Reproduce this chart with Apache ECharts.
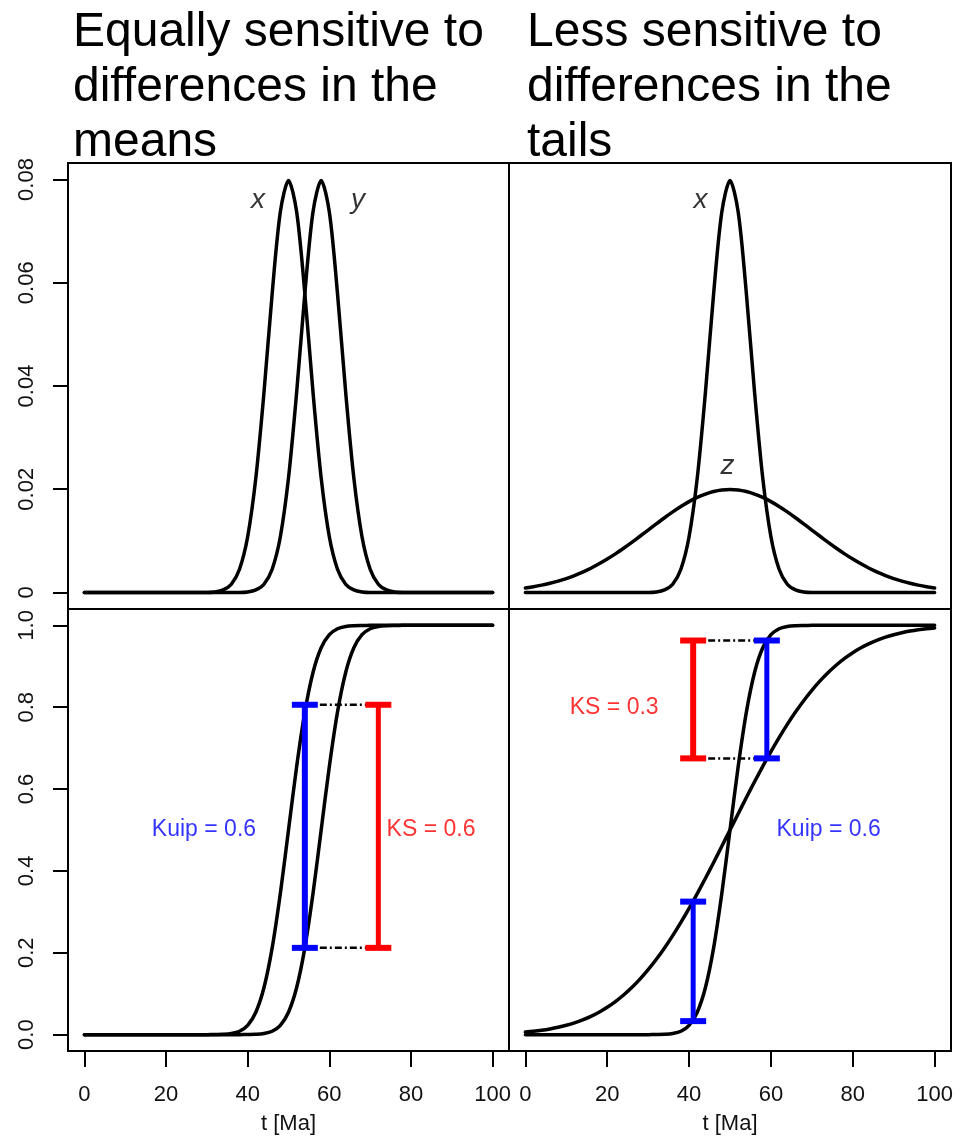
<!DOCTYPE html>
<html>
<head>
<meta charset="utf-8">
<script src="https://cdn.jsdelivr.net/npm/echarts@6/dist/echarts.min.js"></script>
<style>
  html, body { margin: 0; padding: 0; background: #fff; }
  #chart { width: 966px; height: 1136px; }
</style>
</head>
<body>
<div id="chart"></div>
<script>
// sample times (Ma)
const t = [0, 2, 4, 6, 8, 10, 12, 14, 16, 18, 20, 22, 24, 26, 28, 30, 32, 34, 36, 38, 40,
  42, 44, 46, 48, 50, 52, 54, 56, 58, 60, 62, 64, 66, 68, 70, 72, 74, 76, 78, 80,
  82, 84, 86, 88, 90, 92, 94, 96, 98, 100];

// densities (top row)
const xPdf = [0, 0, 0, 0, 0, 0, 0, 0, 0, 0, 0, 0, 0, 0, 0, 0, 0.0001, 0.0005, 0.0016, 0.0045, 0.0108,
  0.0222, 0.0388, 0.0579, 0.0737, 0.0798, 0.0737, 0.0579, 0.0388, 0.0222, 0.0108, 0.0045, 0.0016, 0.0005, 0.0001, 0, 0, 0, 0, 0, 0,
  0, 0, 0, 0, 0, 0, 0, 0, 0, 0];
const yPdf = [0, 0, 0, 0, 0, 0, 0, 0, 0, 0, 0, 0, 0, 0, 0, 0, 0, 0, 0, 0, 0.0001,
  0.0005, 0.0016, 0.0045, 0.0108, 0.0222, 0.0388, 0.0579, 0.0737, 0.0798, 0.0737, 0.0579, 0.0388, 0.0222, 0.0108, 0.0045, 0.0016, 0.0005, 0.0001, 0, 0,
  0, 0, 0, 0, 0, 0, 0, 0, 0, 0];
const zPdf = [0.00088, 0.00112, 0.00142, 0.00178, 0.0022, 0.0027, 0.00328, 0.00395, 0.0047, 0.00555, 0.00648,
  0.00748, 0.00857, 0.00971, 0.01089, 0.0121, 0.0133, 0.01448, 0.01561, 0.01666, 0.0176,
  0.01842, 0.01907, 0.01955, 0.01985, 0.01995, 0.01985, 0.01955, 0.01907, 0.01842, 0.0176,
  0.01666, 0.01561, 0.01448, 0.0133, 0.0121, 0.01089, 0.00971, 0.00857, 0.00748, 0.00648,
  0.00555, 0.0047, 0.00395, 0.00328, 0.0027, 0.0022, 0.00178, 0.00142, 0.00112, 0.00088];

// cumulative distributions (bottom row)
const xCdf = [0, 0, 0, 0, 0, 0, 0, 0, 0, 0, 0, 0, 0, 0, 0, 0, 0.0002, 0.0007, 0.0026, 0.0082, 0.0228,
  0.0548, 0.1151, 0.2119, 0.3446, 0.5, 0.6554, 0.7881, 0.8849, 0.9452, 0.9772, 0.9918, 0.9974, 0.9993, 0.9998, 1, 1, 1, 1, 1, 1,
  1, 1, 1, 1, 1, 1, 1, 1, 1, 1];
const yCdf = [0, 0, 0, 0, 0, 0, 0, 0, 0, 0, 0, 0, 0, 0, 0, 0, 0, 0, 0, 0, 0.0002,
  0.0007, 0.0026, 0.0082, 0.0228, 0.0548, 0.1151, 0.2119, 0.3446, 0.5, 0.6554, 0.7881, 0.8849, 0.9452, 0.9772, 0.9918, 0.9974, 0.9993, 0.9998, 1, 1,
  1, 1, 1, 1, 1, 1, 1, 1, 1, 1];
const zCdf = [0.0062, 0.0082, 0.0107, 0.0139, 0.0179, 0.0228, 0.0287, 0.0359, 0.0446, 0.0548, 0.0668,
  0.0808, 0.0968, 0.1151, 0.1357, 0.1587, 0.1841, 0.2119, 0.242, 0.2743, 0.3085,
  0.3446, 0.3821, 0.4207, 0.4602, 0.5, 0.5398, 0.5793, 0.6179, 0.6554, 0.6915,
  0.7257, 0.758, 0.7881, 0.8159, 0.8413, 0.8643, 0.8849, 0.9032, 0.9192, 0.9332,
  0.9452, 0.9554, 0.9641, 0.9713, 0.9772, 0.9821, 0.9861, 0.9893, 0.9918, 0.9938];

// tick values and labels
const xTicks = [0, 20, 40, 60, 80, 100];
const pdfTicks = [0, 0.02, 0.04, 0.06, 0.08];
const pdfTickLabels = ["0", "0.02", "0.04", "0.06", "0.08"];
const cdfTicks = [0, 0.2, 0.4, 0.6, 0.8, 1.0];
const cdfTickLabels = ["0.0", "0.2", "0.4", "0.6", "0.8", "1.0"];

// error bars: [t, low, high]
const kuipLeft = [[54, 0.212, 0.806]];
const ksLeft = [[72, 0.212, 0.806]];
const ksRight = [[41, 0.675, 0.963]];
const kuipRight = [[59, 0.675, 0.963], [41, 0.033, 0.325]];

// dotted connectors between bar ends
const connLeft = [[[54, 0.806], [72, 0.806]], [[54, 0.212], [72, 0.212]]];
const connRight = [[[41, 0.963], [59, 0.963]], [[41, 0.675], [59, 0.675]]];

// annotations
const curveNamesLeft = [{ name: "x", value: [42.5, 0.076] }, { name: "y", value: [67, 0.076] }];
const curveNamesRight = [{ name: "x", value: [42.8, 0.076] }, { name: "z", value: [49.4, 0.0245] }];
const statLeft = [
  { name: "Kuip = 0.6", value: [29.3, 0.5], color: "#0000ff" },
  { name: "KS = 0.6", value: [84.9, 0.5], color: "#ff0000" },
];
const statRight = [
  { name: "KS = 0.3", value: [21.7, 0.8], color: "#ff0000" },
  { name: "Kuip = 0.6", value: [74.1, 0.5], color: "#0000ff" },
];

const FONT = "Liberation Sans, Arial, sans-serif";
const pairs = (vals) => t.map((v, i) => [v, vals[i]]);

const chart = echarts.init(document.getElementById("chart"), null, { renderer: "canvas" });

const gridBox = (left, top, width, height) => ({
  left, top, width, height,
  show: true, borderColor: "#000", borderWidth: 2, backgroundColor: "transparent",
});

const makeX = (gridIndex, bottom) => ({
  type: "value", gridIndex, min: -4, max: 104, position: "bottom",
  axisLine: { show: false, onZero: false },
  splitLine: { show: false },
  axisTick: { show: bottom, inside: false, customValues: xTicks, length: 16, lineStyle: { color: "#000", width: 2 } },
  axisLabel: { show: bottom, customValues: xTicks, fontSize: 22, fontFamily: FONT, color: "#111", margin: 33 },
  name: bottom ? "t [Ma]" : "",
  nameLocation: "middle",
  nameGap: 62,
  nameTextStyle: { fontSize: 22, fontFamily: FONT, color: "#111" },
});

const makeY = (gridIndex, left, min, max, ticks, labels) => ({
  type: "value", gridIndex, min, max, position: "left",
  axisLine: { show: false, onZero: false },
  splitLine: { show: false },
  axisTick: { show: left, inside: false, customValues: ticks, length: 15, lineStyle: { color: "#000", width: 2 } },
  axisLabel: {
    show: left, customValues: ticks, rotate: 90, fontSize: 22, fontFamily: FONT, color: "#111", margin: 30,
    formatter: (v) => labels[ticks.findIndex((k) => Math.abs(k - v) < 1e-9)],
  },
});

const curve = (name, vals, idx) => ({
  name, type: "line", xAxisIndex: idx, yAxisIndex: idx,
  data: pairs(vals), showSymbol: false, smooth: 0.3, silent: true,
  lineStyle: { color: "#000", width: 3.5, cap: "round", join: "round" },
});

const errorBars = (data, color, idx, barW) => ({
  type: "custom", xAxisIndex: idx, yAxisIndex: idx, silent: true, z: 5,
  data,
  renderItem: (params, api) => {
    const x = api.value(0);
    const lo = api.coord([x, api.value(1)]);
    const hi = api.coord([x, api.value(2)]);
    const cap = 13;
    const st = { stroke: color, lineWidth: barW };
    const cs = { stroke: color, lineWidth: 6 };
    return {
      type: "group",
      children: [
        { type: "line", shape: { x1: lo[0], y1: lo[1], x2: hi[0], y2: hi[1] }, style: st },
        { type: "line", shape: { x1: lo[0] - cap, y1: lo[1], x2: lo[0] + cap, y2: lo[1] }, style: cs },
        { type: "line", shape: { x1: hi[0] - cap, y1: hi[1], x2: hi[0] + cap, y2: hi[1] }, style: cs },
      ],
    };
  },
});

const connector = (seg, idx) => ({
  type: "line", xAxisIndex: idx, yAxisIndex: idx, data: seg, showSymbol: false, silent: true, z: 3,
  lineStyle: { color: "#000", width: 2.5, type: [7, 3, 2, 3] },
});

const textSeries = (data, idx, style) => ({
  type: "scatter", xAxisIndex: idx, yAxisIndex: idx, silent: true, z: 6,
  symbolSize: 1, itemStyle: { color: "transparent" },
  data: data.map((d) => ({
    name: d.name, value: d.value,
    label: d.color ? { color: d.color } : undefined,
  })),
  label: Object.assign({ show: true, position: "inside", formatter: "{b}", fontFamily: FONT }, style),
});

const titleStyle = { fontSize: 48, fontWeight: "normal", fontFamily: FONT, color: "#000", lineHeight: 55 };

const option = {
  animation: false,
  backgroundColor: "#fff",
  title: [
    { text: "Equally sensitive to\ndifferences in the\nmeans", left: 68, top: 0, textStyle: titleStyle },
    { text: "Less sensitive to\ndifferences in the\ntails", left: 522, top: 0, textStyle: titleStyle },
  ],
  grid: [
    gridBox(68, 163, 441, 446),
    gridBox(509, 163, 442, 446),
    gridBox(68, 609, 441, 442),
    gridBox(509, 609, 442, 442),
  ],
  xAxis: [makeX(0, false), makeX(1, false), makeX(2, true), makeX(3, true)],
  yAxis: [
    makeY(0, true, -0.0032, 0.0832, pdfTicks, pdfTickLabels),
    makeY(1, false, -0.0032, 0.0832, pdfTicks, pdfTickLabels),
    makeY(2, true, -0.04, 1.04, cdfTicks, cdfTickLabels),
    makeY(3, false, -0.04, 1.04, cdfTicks, cdfTickLabels),
  ],
  series: [
    curve("x", xPdf, 0),
    curve("y", yPdf, 0),
    curve("x", xPdf, 1),
    curve("z", zPdf, 1),
    curve("x", xCdf, 2),
    curve("y", yCdf, 2),
    curve("x", xCdf, 3),
    curve("z", zCdf, 3),
    ...connLeft.map((s) => connector(s, 2)),
    ...connRight.map((s) => connector(s, 3)),
    errorBars(kuipLeft, "#0000ff", 2, 6),
    errorBars(ksLeft, "#ff0000", 2, 5),
    errorBars(ksRight, "#ff0000", 3, 6),
    errorBars(kuipRight, "#0000ff", 3, 5),
    textSeries(curveNamesLeft, 0, { fontSize: 28, fontStyle: "italic", color: "#000" }),
    textSeries(curveNamesRight, 1, { fontSize: 28, fontStyle: "italic", color: "#000" }),
    textSeries(statLeft, 2, { fontSize: 23 }),
    textSeries(statRight, 3, { fontSize: 23 }),
  ],
};

chart.setOption(option);
</script>
</body>
</html>
